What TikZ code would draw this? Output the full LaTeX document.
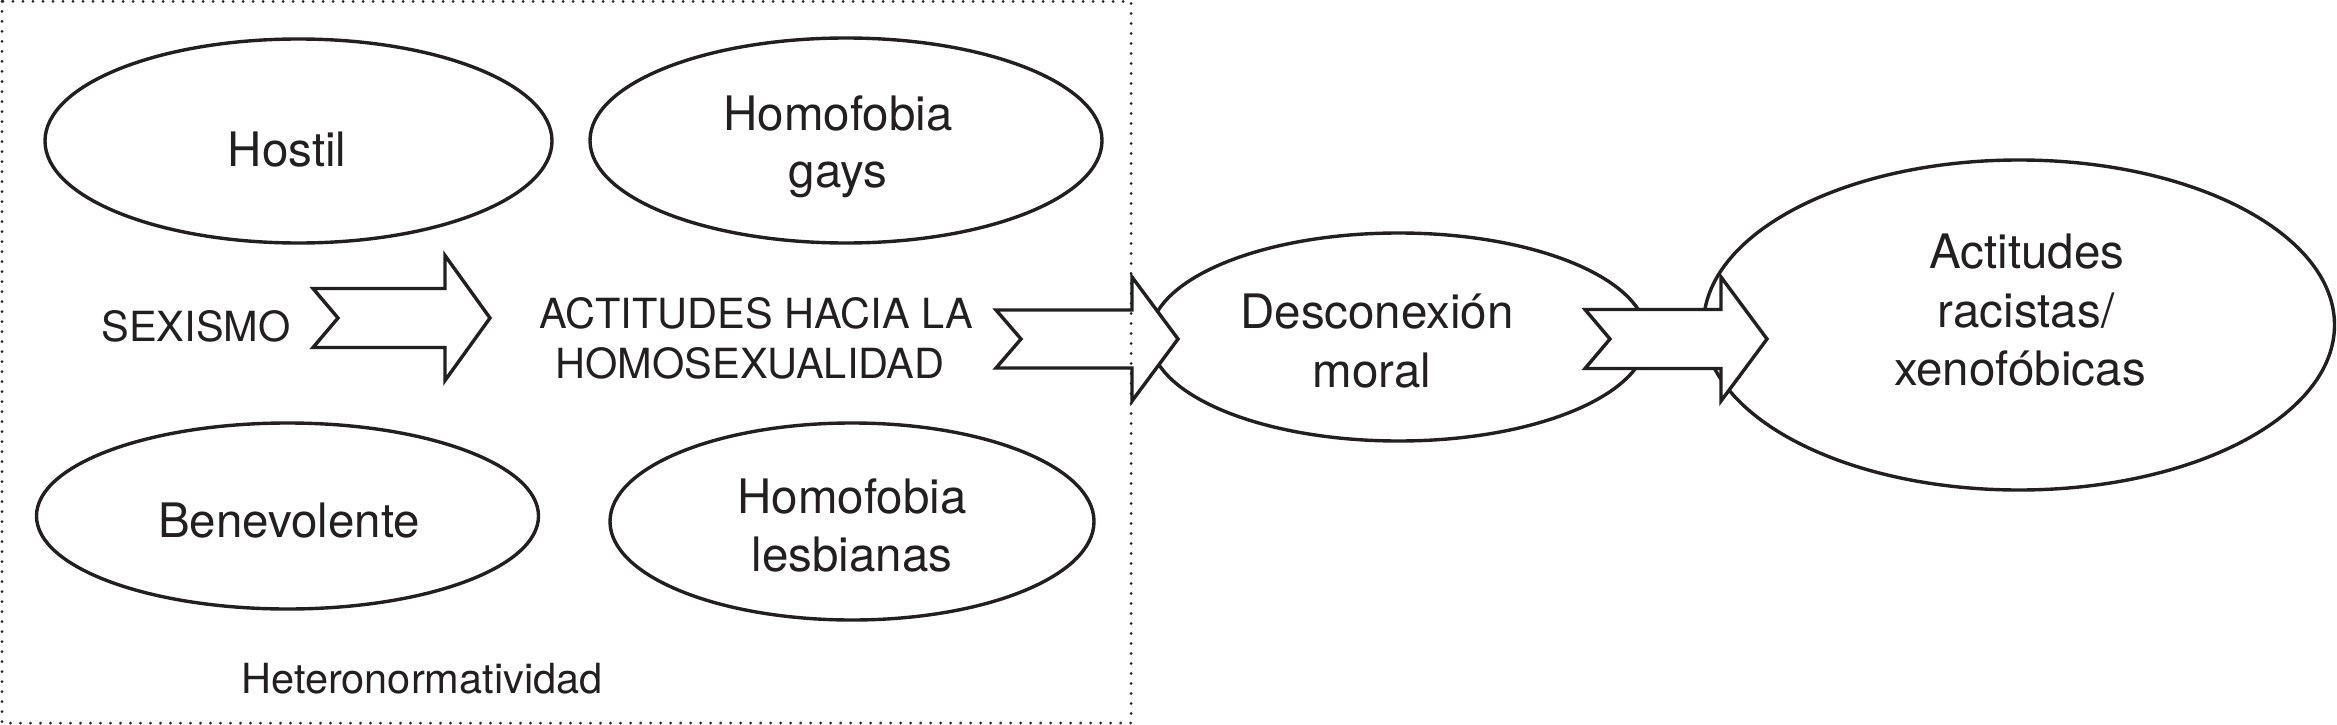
\documentclass[tikz,border=0pt]{standalone}
\usepackage{fontspec}
\setmainfont{TeX Gyre Heros}
\usetikzlibrary{shapes.geometric}
\definecolor{ink}{RGB}{35,31,32}
\tikzset{
  oval/.style={draw=ink, line width=3.4pt, ellipse, inner sep=0pt, fill=white},
  bigtxt/.style={anchor=base, text=ink, font=\fontsize{47.5}{57}\selectfont, inner sep=0pt},
  smalltxt/.style={anchor=base, text=ink, font=\fontsize{41.5}{50}\selectfont, inner sep=0pt},
  blockarrow/.style={draw=ink, line width=3.4pt, fill=white, line join=miter},
  framebox/.style={draw=ink, line width=3pt, dash pattern=on 0pt off 10pt, line cap=round},
}
% tail x, notch x, head base x, tip x, mid y, half body, half head
\newcommand\blockarr[7]{%
  \draw[blockarrow] (#1,#5-#6) -- (#3,#5-#6) -- (#3,#5-#7) -- (#4,#5)
    -- (#3,#5+#7) -- (#3,#5+#6) -- (#1,#5+#6) -- (#2,#5) -- cycle;}
\begin{document}
\begin{tikzpicture}[x=1pt,y=-1pt]
\useasboundingbox (0,0) rectangle (2337,725);
\fill[white] (0,0) rectangle (2337,725);

% ellipses
\node[oval, minimum width=507pt, minimum height=204pt] (hostil) at (298.5,141) {};
\node[oval, minimum width=512pt, minimum height=205pt] (gays) at (846,140.5) {};
\node[oval, minimum width=502pt, minimum height=186pt] (benev) at (287.5,516) {};
\node[oval, minimum width=484pt, minimum height=197pt] (lesb) at (852,521.5) {};
\node[oval, minimum width=497pt, minimum height=208pt] (desc) at (1398.5,337) {};
\node[oval, minimum width=631pt, minimum height=330pt] (racis) at (2019,325) {};

% block arrows
\blockarr{313}{338}{445}{490}{318}{29.5}{62.5}
\blockarr{996}{1021}{1132}{1178}{339}{29}{62}
\blockarr{1585}{1610}{1721}{1767}{339}{29.5}{62}

% dotted frame
\draw[framebox] (2,1.5) rectangle (1131,723);

% texts
\node[bigtxt] (t-hostil) at (287,166) {Hostil};
\node[bigtxt] (t-gays1) at (838,130) {Homofobia};
\node[bigtxt] (t-gays2) at (838,187) {gays};
\node[bigtxt] (t-benev) at (289,537) {Benevolente};
\node[bigtxt] (t-lesb1) at (852,513) {Homofobia};
\node[bigtxt] (t-lesb2) at (852,571) {lesbianas};
\node[bigtxt] (t-desc1) at (1377,328) {Desconexión};
\node[bigtxt] (t-desc2) at (1372,387) {moral};
\node[bigtxt] (t-rac1) at (2027,268) {Actitudes};
\node[bigtxt] (t-rac2) at (2026,327) {racistas/};
\node[bigtxt] (t-rac3) at (2020,385) {xenofóbicas};
\node[smalltxt] (t-sex) at (196,341) {SEXISMO};
\node[smalltxt] (t-act1) at (756,328) {ACTITUDES HACIA LA};
\node[smalltxt] (t-act2) at (750,378) {HOMOSEXUALIDAD};
\node[smalltxt] (t-het) at (422,693) {Heteronormatividad};
\end{tikzpicture}
\end{document}
